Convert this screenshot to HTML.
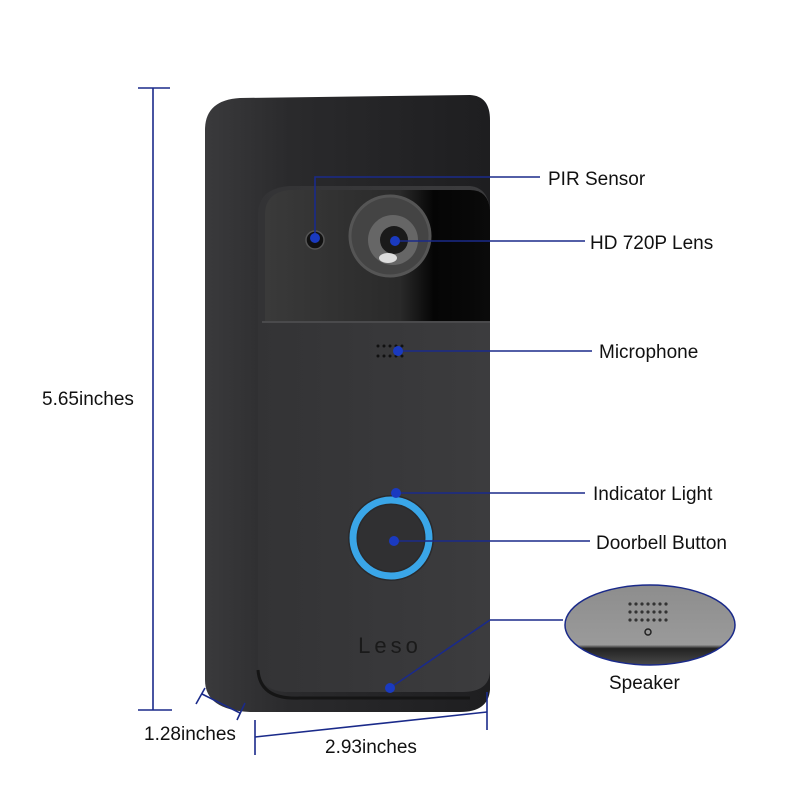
<!DOCTYPE html>
<html><head><style>
body{margin:0;background:#fff;}
svg{display:block;font-family:"Liberation Sans",sans-serif;}
</style></head><body>
<svg width="800" height="800" viewBox="0 0 800 800">
<defs>
<linearGradient id="back" x1="0" x2="1"><stop offset="0" stop-color="#3a3a3c"/><stop offset="0.3" stop-color="#2a2a2c"/><stop offset="1" stop-color="#1e1e20"/></linearGradient>
<linearGradient id="face" x1="0" x2="1"><stop offset="0" stop-color="#333335"/><stop offset="1" stop-color="#3c3c3e"/></linearGradient>
<linearGradient id="glass" x1="0" x2="1"><stop offset="0" stop-color="#3a3a3a"/><stop offset="0.6" stop-color="#2a2a2a"/><stop offset="0.75" stop-color="#050505"/><stop offset="1" stop-color="#0a0a0a"/></linearGradient>
<linearGradient id="spk" x1="0" y1="0" x2="0" y2="1"><stop offset="0" stop-color="#8c8c8c"/><stop offset="0.72" stop-color="#9a9a9a"/><stop offset="0.76" stop-color="#222"/><stop offset="1" stop-color="#555"/></linearGradient>
<clipPath id="ell"><ellipse cx="650" cy="625" rx="85" ry="40"/></clipPath>
</defs>
<path d="M205 130 Q205 100 240 98 L470 95 Q490 96 490 120 L490 690 Q488 712 460 712 L250 712 Q205 710 205 680 Z" fill="url(#back)"/>
<path d="M258 215 Q258 188 290 186 L470 186 Q490 188 490 215 L490 670 Q490 692 462 692 L285 692 Q258 690 258 665 Z" fill="url(#face)"/>
<path d="M265 322 L490 322 L490 210 Q488 190 470 190 L290 190 Q265 192 265 215 Z" fill="url(#glass)"/>
<line x1="262" y1="322" x2="490" y2="322" stroke="#4a4a4c" stroke-width="2"/>
<path d="M258 670 Q260 700 300 698 L470 698" stroke="#151515" stroke-width="3" fill="none"/>
<circle cx="315" cy="240" r="9" fill="#111" stroke="#555" stroke-width="1.5"/>
<circle cx="390" cy="236" r="40" fill="#444" stroke="#555" stroke-width="3"/>
<circle cx="393" cy="240" r="25" fill="#666"/>
<circle cx="394" cy="240" r="14" fill="#1a1a1a"/>
<ellipse cx="388" cy="258" rx="9" ry="5" fill="#ddd"/>
<g fill="#111"><circle cx="378" cy="346" r="1.5"/><circle cx="384" cy="346" r="1.5"/><circle cx="390" cy="346" r="1.5"/><circle cx="396" cy="346" r="1.5"/><circle cx="402" cy="346" r="1.5"/><circle cx="378" cy="356" r="1.5"/><circle cx="384" cy="356" r="1.5"/><circle cx="390" cy="356" r="1.5"/><circle cx="396" cy="356" r="1.5"/><circle cx="402" cy="356" r="1.5"/></g>
<circle cx="391" cy="538" r="43" fill="#2a2a2c"/>
<circle cx="391" cy="538" r="38" fill="none" stroke="#3aa6e8" stroke-width="7"/>
<circle cx="391" cy="538" r="33" fill="#303032"/>
<text x="390" y="653" font-size="22" fill="#1a1a1a" text-anchor="middle" letter-spacing="4">Leso</text>
<ellipse cx="650" cy="625" rx="85" ry="40" fill="#fff"/>
<g clip-path="url(#ell)"><rect x="560" y="580" width="180" height="90" fill="url(#spk)"/>
<g fill="#333">
<circle cx="630" cy="604" r="1.6"/><circle cx="636" cy="604" r="1.6"/><circle cx="642" cy="604" r="1.6"/><circle cx="648" cy="604" r="1.6"/><circle cx="654" cy="604" r="1.6"/><circle cx="660" cy="604" r="1.6"/><circle cx="666" cy="604" r="1.6"/>
<circle cx="630" cy="612" r="1.6"/><circle cx="636" cy="612" r="1.6"/><circle cx="642" cy="612" r="1.6"/><circle cx="648" cy="612" r="1.6"/><circle cx="654" cy="612" r="1.6"/><circle cx="660" cy="612" r="1.6"/><circle cx="666" cy="612" r="1.6"/>
<circle cx="630" cy="620" r="1.6"/><circle cx="636" cy="620" r="1.6"/><circle cx="642" cy="620" r="1.6"/><circle cx="648" cy="620" r="1.6"/><circle cx="654" cy="620" r="1.6"/><circle cx="660" cy="620" r="1.6"/><circle cx="666" cy="620" r="1.6"/></g>
<circle cx="648" cy="632" r="3" fill="none" stroke="#222" stroke-width="1.5"/>
</g>
<ellipse cx="650" cy="625" rx="85" ry="40" fill="none" stroke="#1a2a8a" stroke-width="1.5"/>
<g stroke="#1a2a8a" stroke-width="1.6" fill="none">
<polyline points="315,238 315,177 540,177"/>
<line x1="395" y1="241" x2="585" y2="241"/>
<line x1="398" y1="351" x2="592" y2="351"/>
<line x1="396" y1="493" x2="585" y2="493"/>
<line x1="394" y1="541" x2="590" y2="541"/>
<polyline points="390,688 490,620 563,620"/>
<line x1="153" y1="88" x2="153" y2="710"/>
<line x1="138" y1="88" x2="170" y2="88"/>
<line x1="138" y1="710" x2="172" y2="710"/>
<line x1="202" y1="694" x2="240" y2="713"/>
<line x1="196" y1="704" x2="205" y2="688"/>
<line x1="237" y1="720" x2="245" y2="703"/>
<line x1="255" y1="737" x2="487" y2="712"/>
<line x1="255" y1="720" x2="255" y2="755"/>
<line x1="487" y1="692" x2="487" y2="730"/>
</g>
<g fill="#1a3ac0">
<circle cx="315" cy="238" r="5"/><circle cx="395" cy="241" r="5"/><circle cx="398" cy="351" r="5"/><circle cx="396" cy="493" r="5"/><circle cx="394" cy="541" r="5"/><circle cx="390" cy="688" r="5"/>
</g>
<g font-size="19" fill="#111">
<text x="548" y="185">PIR Sensor</text>
<text x="590" y="249">HD 720P Lens</text>
<text x="599" y="358">Microphone</text>
<text x="593" y="500">Indicator Light</text>
<text x="596" y="549">Doorbell Button</text>
<text x="609" y="689">Speaker</text>
<text x="42" y="405">5.65inches</text>
<text x="144" y="740">1.28inches</text>
<text x="325" y="753">2.93inches</text>
</g>
</svg>
</body></html>
